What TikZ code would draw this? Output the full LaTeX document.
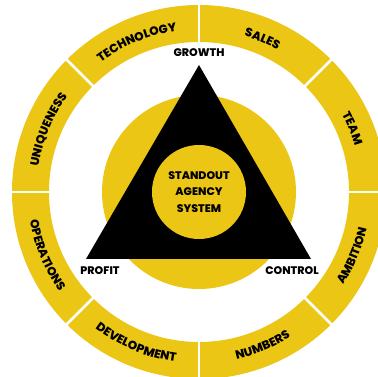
\documentclass[tikz,border=0pt]{standalone}
\usepackage{fontspec}
\setmainfont{Poppins}[BoldFont={Poppins ExtraBold}]
\usetikzlibrary{decorations.text}
\definecolor{gold}{RGB}{236,198,20}
\begin{document}
\begin{tikzpicture}[x=1pt,y=1pt,
  lbl/.style={font=\bfseries\fontsize{11}{12}\selectfont, text=black, inner sep=0pt},
  ringtxt/.style={decorate, decoration={text along path, text align=center,
      text format delimiters={|}{|}, text={|\bfseries\fontsize{12}{13}\selectfont|#1}}}
]
\useasboundingbox (-199,-185) rectangle (179,192);
% ring
\fill[gold, even odd rule] (0,0) circle[radius=187] (0,0) circle[radius=150];
\foreach \a in {0,45,...,315}
  \draw[white, line width=2.5pt] (\a:148) -- (\a:190);
% middle disc
\fill[gold] (0,0) circle[radius=97];
% triangle
\coordinate (top) at (0,127);
\coordinate (bl) at (-113,-67);
\coordinate (br) at (112,-67);
\fill[black] (top) -- (bl) -- (br) -- cycle;
% inner disc
\node[circle, fill=gold, minimum size=94pt, inner sep=0pt] (core) at (0,0) {};
\node[lbl, align=center, font=\bfseries\fontsize{11}{16.5}\selectfont] (sas) at (0,0) {STANDOUT\\AGENCY\\SYSTEM};
% vertex labels
\node[lbl] (growth) at (0,139) {GROWTH};
\node[lbl] (profit) at (-99,-79) {PROFIT};
\node[lbl] (control) at (93,-79) {CONTROL};
% ring labels (upper half clockwise, lower half counter-clockwise)
\path[ringtxt=TECHNOLOGY] (135:162.5) arc[start angle=135, end angle=90, radius=162.5];
\path[ringtxt=SALES] (90:162.5) arc[start angle=90, end angle=45, radius=162.5];
\path[ringtxt=TEAM] (45:162.5) arc[start angle=45, end angle=0, radius=162.5];
\path[ringtxt=UNIQUENESS] (180:162.5) arc[start angle=180, end angle=135, radius=162.5];
\path[ringtxt=AMBITION] (-45:171.5) arc[start angle=-45, end angle=0, radius=171.5];
\path[ringtxt=NUMBERS] (-90:171.5) arc[start angle=-90, end angle=-45, radius=171.5];
\path[ringtxt=DEVELOPMENT] (-135:171.5) arc[start angle=-135, end angle=-90, radius=171.5];
\path[ringtxt=OPERATIONS] (-180:171.5) arc[start angle=-180, end angle=-135, radius=171.5];
\end{tikzpicture}
\end{document}
